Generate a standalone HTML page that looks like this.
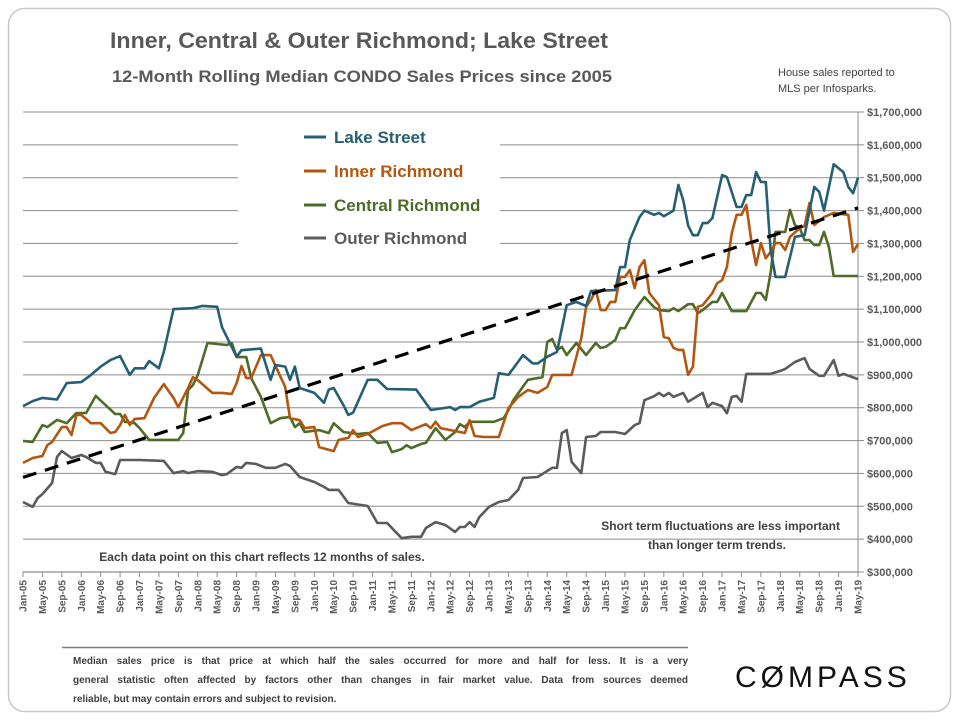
<!DOCTYPE html>
<html><head><meta charset="utf-8"><style>
html,body{margin:0;padding:0;background:#fff;}
body{width:960px;height:720px;overflow:hidden;font-family:"Liberation Sans",sans-serif;}
svg text{font-family:"Liberation Sans",sans-serif;}
.fl{text-align:justify;text-align-last:justify;white-space:nowrap;overflow:hidden;}
</style></head><body>
<svg id="chart" width="960" height="720" viewBox="0 0 960 720" xmlns="http://www.w3.org/2000/svg">
<rect x="8.5" y="8.5" width="942" height="703" rx="16" fill="#fff" stroke="#c8c8c8" stroke-width="1.5"/>
<text x="110" y="48" font-size="22" font-weight="bold" fill="#595959" textLength="498" lengthAdjust="spacingAndGlyphs">Inner, Central &amp; Outer Richmond; Lake Street</text>
<text x="112" y="82" font-size="16.5" font-weight="bold" fill="#595959" textLength="500" lengthAdjust="spacingAndGlyphs">12-Month Rolling Median CONDO Sales Prices since 2005</text>
<text font-size="11" fill="#404040"><tspan x="778" y="76">House sales reported to</tspan><tspan x="778" y="92">MLS per Infosparks.</tspan></text>
<g id="grid"></g>
<g id="axes"></g>
<rect x="238" y="118" width="262" height="138" fill="#fff"/>
<g id="series"></g>
<g id="legend"></g>
<text x="262" y="561" text-anchor="middle" font-size="12" font-weight="bold" fill="#404040">Each data point on this chart reflects 12 months of sales.</text>
<text font-size="12" font-weight="bold" fill="#404040" text-anchor="end"><tspan x="840" y="530">Short term fluctuations are less important</tspan><tspan x="786" y="549">than longer term trends.</tspan></text>
<line x1="62" y1="647.5" x2="688" y2="647.5" stroke="#7f7f7f" stroke-width="1.5"/>
<foreignObject x="73" y="652" width="615" height="60">
<div xmlns="http://www.w3.org/1999/xhtml" style="font-family:'Liberation Sans',sans-serif;font-size:10px;font-weight:bold;color:#404040;line-height:19px;">
<div class="fl">Median sales price is that price at which half the sales occurred for more and half for less. It is a very</div>
<div class="fl">general statistic often affected by factors other than changes in fair market value. Data from sources deemed</div>
<div>reliable, but may contain errors and subject to revision.</div>
</div>
</foreignObject>
<text x="735" y="687" font-size="30" letter-spacing="4" fill="#111">CØMPASS</text>
</svg>
<script>
const yTicks = [300,400,500,600,700,800,900,1000,1100,1200,1300,1400,1500,1600,1700];
const monthNames = ["Jan","May","Sep"];
const trendMonths = [0,172];
const trendValues = [588,1408];

const lakeMonths = [0,2,4,7,9,12,14,16,18,20,22,23,25,26,28,29,31,35,37,40,41,44,45,49,51,52,54,55,56,57,60,62,63,64,66,67,68,71,73,75,81,84,88,89,90,92,94,97,98,100,103,105,106,108,110,112,114,116,117,122,123,124,125,127,128,130,131,132,134,135,136,137,138,139,140,141,142,144,145,147,148,149,150,151,152,153,154,155,157,159,161,163,164,165,167,169,170,171,172];
const lakeValues = [805,820,830,825,875,878,900,925,945,957,900,920,920,942,920,970,1100,1103,1110,1107,1045,955,975,980,885,930,925,885,925,860,845,815,855,860,808,778,785,885,885,857,855,793,802,793,802,802,818,830,905,900,960,935,935,955,970,1112,1122,1110,1155,1158,1228,1228,1310,1380,1400,1387,1393,1383,1400,1478,1432,1355,1325,1325,1362,1362,1377,1508,1502,1411,1411,1447,1447,1517,1487,1487,1280,1198,1198,1320,1325,1472,1457,1400,1541,1517,1472,1453,1500];

const innerMonths = [0,2,4,5,6,8,9,10,11,12,14,16,18,19,20,21,22,23,25,27,29,31,32,34,35,36,39,41,43,44,45,46,47,49,51,54,55,57,58,60,61,64,65,67,68,69,71,74,76,78,80,83,84,85,86,91,92,93,95,98,100,102,104,106,108,109,113,115,116,117,118,119,120,121,122,123,124,125,126,127,128,129,131,132,133,134,135,136,137,138,139,140,142,143,144,145,146,147,148,149,150,151,152,153,154,155,156,157,158,160,161,162,163,165,167,170,171,172];
const innerValues = [632,647,653,686,696,741,741,717,778,778,753,753,723,726,747,778,747,766,768,830,872,830,802,860,893,884,845,845,842,875,927,890,890,960,960,863,768,762,738,741,680,668,702,708,732,711,720,744,753,753,732,750,738,757,738,723,762,714,711,711,799,833,854,845,863,900,900,1012,1107,1128,1158,1097,1097,1122,1122,1198,1198,1219,1164,1228,1249,1149,1112,1015,1012,982,976,976,900,925,1107,1112,1149,1179,1188,1228,1332,1387,1387,1417,1310,1234,1301,1255,1274,1301,1301,1280,1320,1347,1353,1423,1356,1380,1393,1387,1274,1298];

const centralMonths = [0,2,4,5,7,9,11,13,15,17,19,20,21,23,24,26,32,33,34,35,36,38,42,43,44,46,47,49,51,53,55,56,57,58,61,63,64,66,69,71,73,75,76,78,79,80,82,83,85,87,89,90,91,92,97,99,100,101,104,107,108,109,110,111,112,114,116,118,119,120,122,123,124,126,128,130,131,133,134,135,137,138,139,140,142,143,144,146,149,151,152,153,154,155,157,158,159,160,161,162,163,164,165,166,167,172];
const centralValues = [699,696,747,741,763,753,784,784,836,808,781,781,757,753,738,702,702,723,854,869,900,997,991,997,954,954,890,833,753,768,772,741,753,726,732,723,753,726,720,723,693,696,665,674,686,677,690,693,738,702,726,750,741,757,757,768,793,823,885,893,1000,1009,976,985,960,997,960,997,982,985,1006,1042,1042,1097,1137,1106,1097,1094,1103,1094,1115,1115,1088,1097,1122,1122,1149,1094,1094,1149,1149,1128,1210,1335,1335,1402,1356,1347,1310,1310,1295,1295,1335,1289,1201,1201];

const outerMonths = [0,2,3,4,6,7,8,10,12,13,15,16,17,19,20,24,29,31,33,34,36,39,41,42,44,45,46,48,50,52,54,55,57,60,62,63,65,67,71,73,75,78,80,82,83,85,87,89,90,91,92,93,94,96,98,100,102,103,106,109,110,111,112,113,115,116,118,119,122,124,126,127,128,130,131,132,133,134,136,137,140,141,142,144,145,146,147,148,149,150,154,156,157,159,161,162,164,165,167,168,169,172];
const outerValues = [513,498,525,537,571,650,668,647,656,650,632,632,605,598,641,641,638,601,607,601,607,605,595,598,620,617,632,629,617,617,629,623,589,574,559,550,550,510,501,449,449,403,407,407,434,452,443,422,437,437,452,437,467,498,513,519,550,586,589,617,617,723,732,635,601,711,714,726,726,720,747,753,823,835,845,835,845,833,845,818,845,802,815,805,783,833,836,818,903,903,903,912,918,939,951,918,897,897,945,897,903,887];

const NS="http://www.w3.org/2000/svg";
const X0=23, X1=858, NM=172, Y0=572, Y1=112, VMIN=300, VMAX=1700;
function xs(m){return X0+(X1-X0)*m/NM;}
function ys(v){return Y0-(Y0-Y1)*(v-VMIN)/(VMAX-VMIN);}
function mk(tag,attrs,parent){const e=document.createElementNS(NS,tag);for(const k in attrs)e.setAttribute(k,attrs[k]);parent.appendChild(e);return e;}
const grid=document.getElementById('grid'),axes=document.getElementById('axes'),ser=document.getElementById('series'),leg=document.getElementById('legend');
yTicks.forEach(v=>{
  const y=ys(v);
  if(v>VMIN){const l=mk('line',{x1:X0,x2:X1,y1:y,y2:y,stroke:'#8c8c8c','stroke-width':1},grid);
  
  }
  const t=mk('line',{x1:X1,x2:X1+6,y1:y,y2:y,stroke:'#8c8c8c','stroke-width':1},axes);
  
  
  const tx=mk('text',{x:867,y:y+4,'font-size':11,'font-weight':'bold',fill:'#595959'},axes);
  tx.textContent='$'+(v*1000).toLocaleString('en-US');
  
  
});
const ax=mk('line',{x1:X1,x2:X1,y1:Y1,y2:Y0,stroke:'#8c8c8c','stroke-width':1},axes);


const bx=mk('line',{x1:X0,x2:X1,y1:Y0,y2:Y0,stroke:'#8c8c8c','stroke-width':1.2},axes);


for(let m=0;m<=NM;m+=4){
  const x=xs(m);
  const t=mk('line',{x1:x,x2:x,y1:Y0,y2:Y0+5,stroke:'#8c8c8c','stroke-width':1},axes);
  
  
  const yr=5+Math.floor(m/12);
  const lbl=monthNames[(m%12)/4]+'-'+String(yr).padStart(2,'0');
  const tx=mk('text',{x:0,y:0,'font-size':10,'font-weight':'bold',fill:'#595959','text-anchor':'end',transform:`translate(${x+3.5},${Y0+8}) rotate(-90)`},axes);
  tx.textContent=lbl;
  
  
}
function line(ms,vs,color,name,dash,w){
  const d=ms.map((m,i)=>(i?'L':'M')+xs(m).toFixed(1)+','+ys(vs[i]).toFixed(1)).join(' ');
  const p=mk('path',{d:d,fill:'none',stroke:color,'stroke-width':w,'stroke-linejoin':'round'},ser);
  if(dash)p.setAttribute('stroke-dasharray',dash);
  
  
}
const C={lake:'#245f73',inner:'#b3560f',central:'#4e6b28',outer:'#5b5b5b'};
line(outerMonths,outerValues,C.outer,'outer-richmond-line',null,2.6);
line(centralMonths,centralValues,C.central,'central-richmond-line',null,2.6);
line(innerMonths,innerValues,C.inner,'inner-richmond-line',null,2.6);
line(lakeMonths,lakeValues,C.lake,'lake-street-line',null,2.6);
line(trendMonths,trendValues,'#000','trend-line','14,9',3.2);
[['Lake Street',C.lake,137],['Inner Richmond',C.inner,171],['Central Richmond',C.central,205],['Outer Richmond',C.outer,238]].forEach(([n,c,y])=>{
  const l=mk('line',{x1:304,x2:326,y1:y,y2:y,stroke:c,'stroke-width':3},leg);
  
  
  const t=mk('text',{x:334,y:y+6,'font-size':17,'font-weight':'bold',fill:c},leg);
  t.textContent=n;
  
  
});
</script>
</body></html>
